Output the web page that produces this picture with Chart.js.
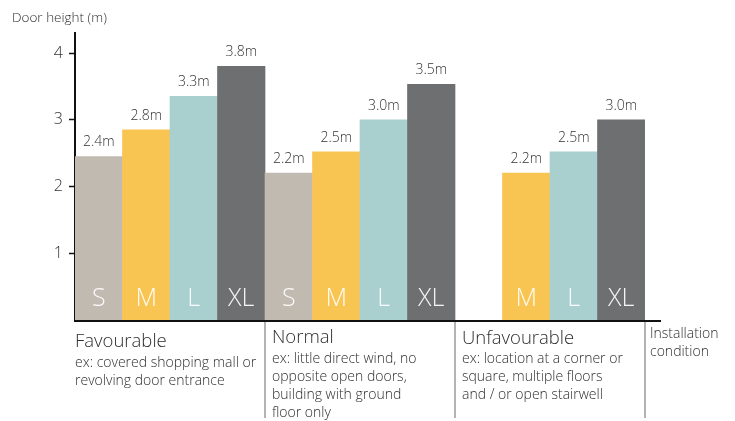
<!DOCTYPE html>
<html>
<head>
<meta charset="utf-8">
<script src="https://cdn.jsdelivr.net/npm/chart.js@4.4.0/dist/chart.umd.min.js"></script>
<style>
  html, body { margin: 0; padding: 0; background: #fff; }
</style>
</head>
<body>
<canvas id="doorChart" width="735" height="421"></canvas>
<script>
// door sizes per slot (3 installation conditions x 4 sizes, S missing for unfavourable)
var sizes = ['S', 'M', 'L', 'XL', 'S', 'M', 'L', 'XL', '', 'M', 'L', 'XL'];
var heights = [2.45, 2.85, 3.35, 3.8, 2.2, 2.52, 3.0, 3.53, null, 2.2, 2.52, 3.0];
var heightLabels = ['2.4m', '2.8m', '3.3m', '3.8m', '2.2m', '2.5m', '3.0m', '3.5m', '', '2.2m', '2.5m', '3.0m'];
var yTicks = [1, 2, 3, 4];
var conditions = ['Favourable', 'Normal', 'Unfavourable'];
var conditionNotes = [
    ['ex: covered shopping mall or', 'revolving door entrance'],
    ['ex: little direct wind, no', 'opposite open doors,', 'building with ground', 'floor only'],
    ['ex: location at a corner or', 'square, multiple floors', 'and / or open stairwell']
];
var axisTitle = 'Door height (m)';
var xAxisTitle = ['Installation', 'condition'];

var sizeColors = { S: '#c1bab0', M: '#f9c552', L: '#aacfcf', XL: '#6e6f71' };
var FONT = '"Open Sans", "Noto Sans", sans-serif';

var decorPlugin = {
    id: 'decor',
    afterDatasetsDraw: function(chart) {
        var c = chart.ctx;
        var a = chart.chartArea;
        var x = chart.scales.x;
        var meta = chart.getDatasetMeta(0);
        var step = x.getPixelForValue(1) - x.getPixelForValue(0);

        c.save();
        c.textBaseline = 'alphabetic';

        // labels on bars
        meta.data.forEach(function(bar, i) {
            if (heights[i] == null) return;
            c.textAlign = 'center';
            c.fillStyle = '#333';
            c.font = '300 14px ' + FONT;
            c.fillText(heightLabels[i], bar.x, bar.y - 10);
            c.fillStyle = 'rgba(255,255,255,0.93)';
            c.font = '300 25px ' + FONT;
            c.fillText(sizes[i], bar.x, a.bottom - 14);
        });

        // x baseline, a bit longer than the plot
        c.strokeStyle = '#111';
        c.lineWidth = 2;
        c.beginPath();
        c.moveTo(a.left - 1, a.bottom + 1);
        c.lineTo(a.right + 16, a.bottom + 1);
        c.stroke();

        // group separators
        var bounds = [3, 7, 11].map(function(i) { return x.getPixelForValue(i) + step / 2; });
        c.strokeStyle = '#9a9a9a';
        c.lineWidth = 1.5;
        bounds.forEach(function(bx) {
            c.beginPath();
            c.moveTo(bx, a.bottom + 2);
            c.lineTo(bx, 418);
            c.stroke();
        });

        // condition texts
        var starts = [a.left, bounds[0] + 7, bounds[1] + 7];
        var headBase = [347, 343, 344];
        var noteBase = [367, 363, 363];
        c.textAlign = 'left';
        c.fillStyle = '#2e2e2e';
        conditions.forEach(function(name, g) {
            c.font = '300 18.5px ' + FONT;
            c.fillText(name, starts[g], headBase[g]);
            c.font = '300 14px ' + FONT;
            conditionNotes[g].forEach(function(line, k) {
                c.fillText(line, starts[g], noteBase[g] + k * 18);
            });
        });

        c.font = '300 14px ' + FONT;
        xAxisTitle.forEach(function(line, k) {
            c.fillText(line, bounds[2] + 5, 338 + k * 18);
        });

        c.font = '300 13.5px ' + FONT;
        c.fillText(axisTitle, 12, 22);
        c.restore();
    }
};

var ctx = document.getElementById('doorChart').getContext('2d');
var doorChart = new Chart(ctx, {
    type: 'bar',
    data: {
        labels: sizes,
        datasets: [{
            data: heights,
            backgroundColor: sizes.map(function(s) { return sizeColors[s] || 'transparent'; }),
            borderWidth: 0,
            barPercentage: 1,
            categoryPercentage: 1
        }]
    },
    options: {
        responsive: false,
        animation: false,
        devicePixelRatio: 1,
        layout: { padding: { top: 33, right: 90, bottom: 101, left: 0 } },
        plugins: {
            legend: { display: false },
            tooltip: { enabled: false }
        },
        scales: {
            x: { display: false },
            y: {
                min: 0,
                max: 4.3,
                afterBuildTicks: function(s) {
                    s.ticks = yTicks.map(function(v) { return { value: v }; });
                },
                afterFit: function(s) { s.width = 75; },
                border: { display: true, color: '#111', width: 2 },
                grid: {
                    drawOnChartArea: false,
                    drawTicks: true,
                    tickLength: 6,
                    tickColor: '#111',
                    tickWidth: 1.5
                },
                ticks: {
                    padding: 6,
                    color: '#333',
                    font: { family: FONT, size: 16, weight: '300' }
                }
            }
        }
    },
    plugins: [decorPlugin]
});
</script>
</body>
</html>
